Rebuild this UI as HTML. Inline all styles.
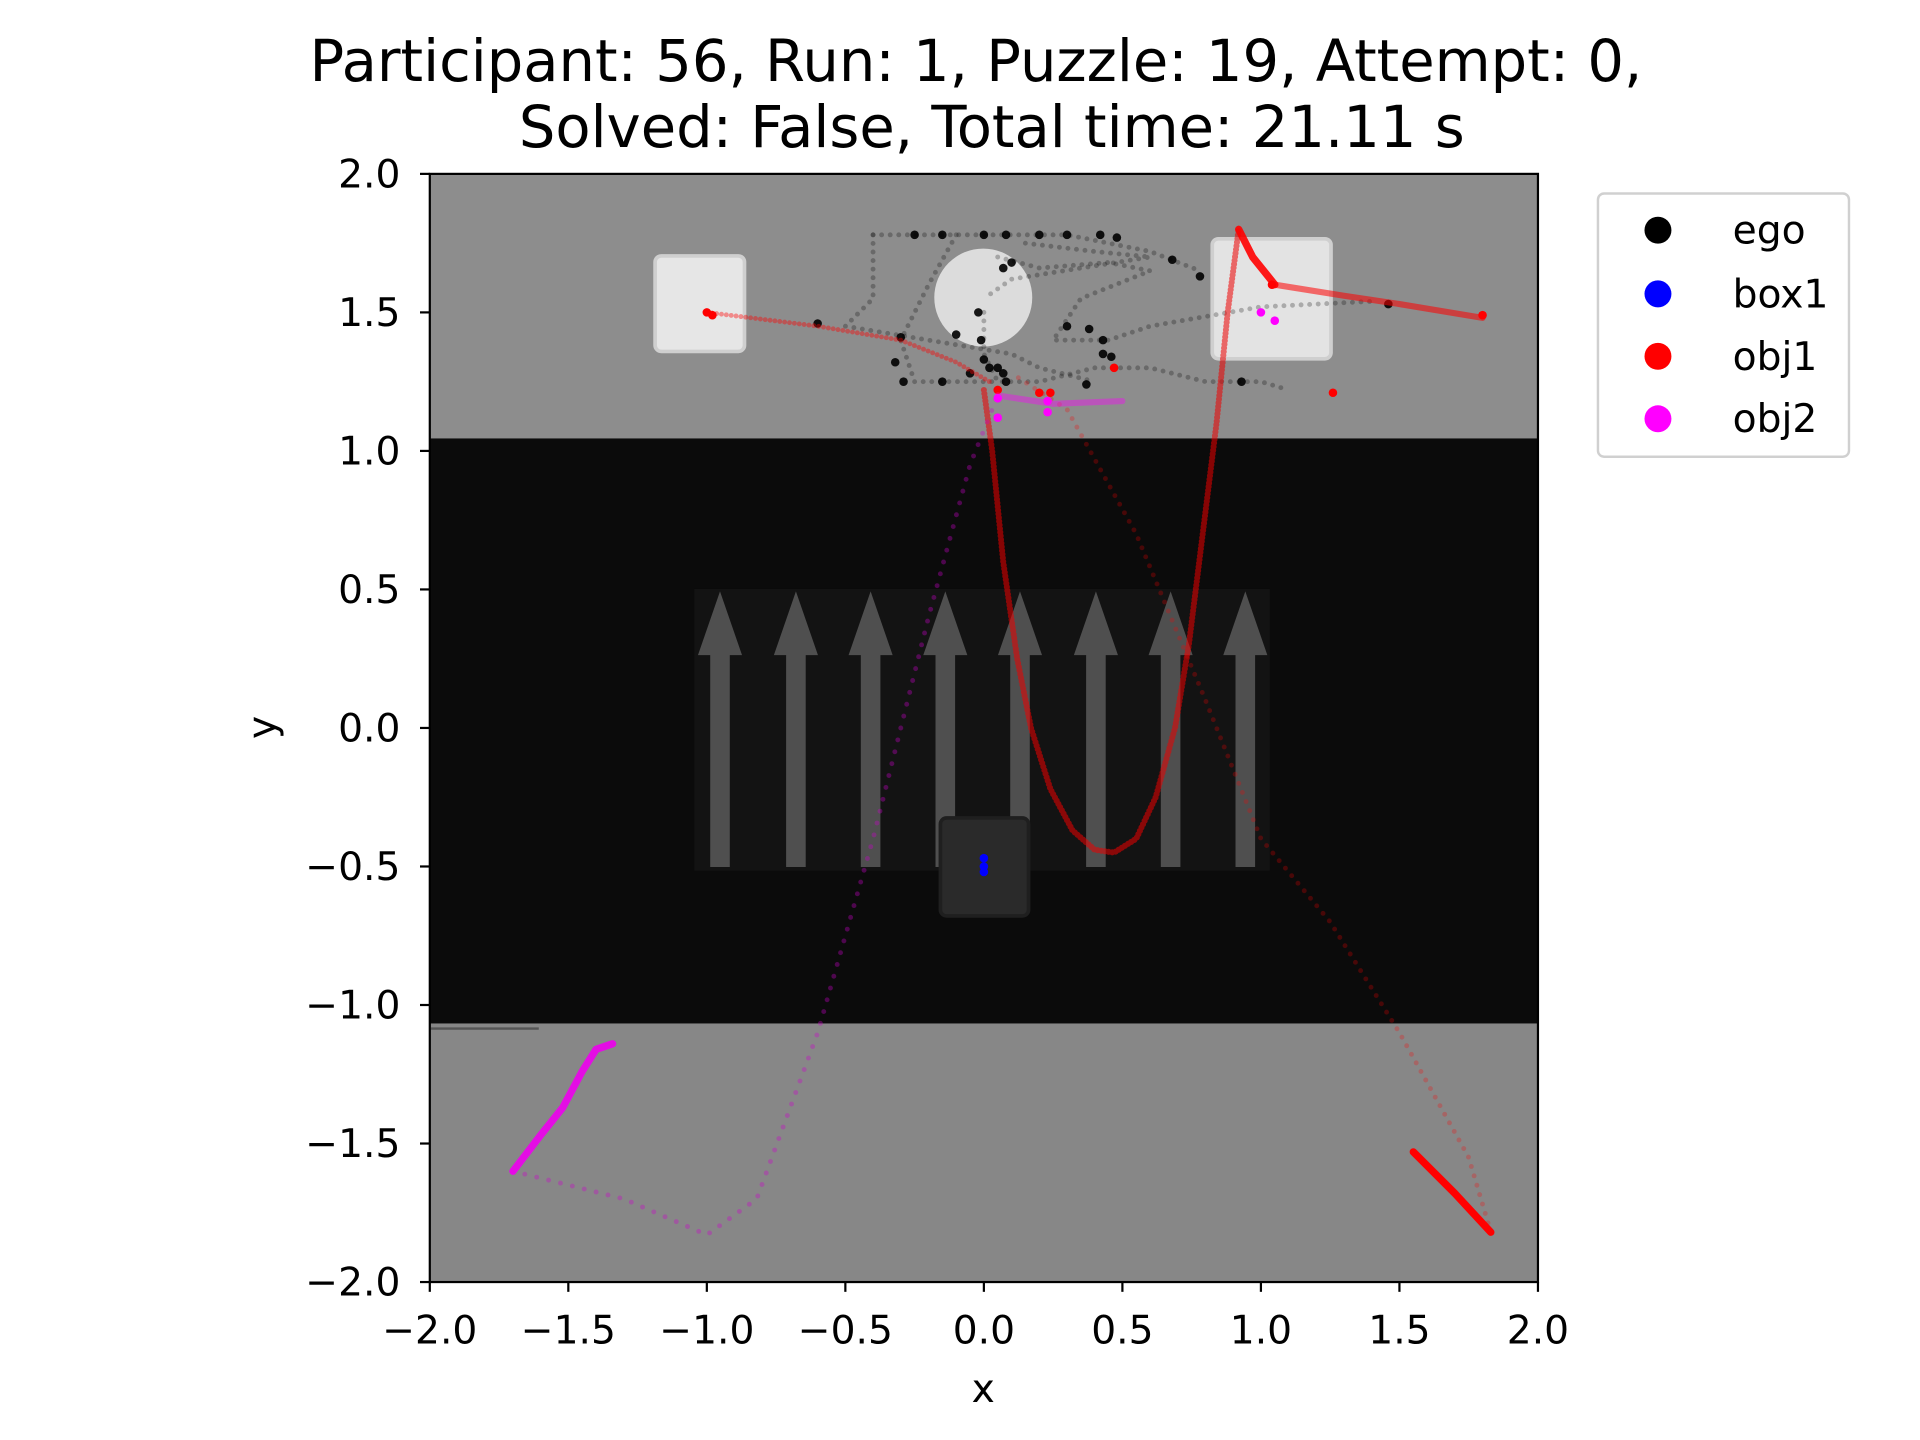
<!DOCTYPE html>
<html><head><meta charset="utf-8"><style>
html,body{margin:0;padding:0;background:#fff}
svg{display:block;font-family:"DejaVu Sans","Liberation Sans",sans-serif}
</style></head><body>
<svg id="chart" width="1920" height="1440" viewBox="0 0 1568 1176" xmlns="http://www.w3.org/2000/svg">
<text x="797" y="66" font-size="47" text-anchor="middle">Participant: 56, Run: 1, Puzzle: 19, Attempt: 0,</text>
<text x="810" y="120" font-size="47" text-anchor="middle">Solved: False, Total time: 21.11 s</text>
<g id="bg"></g>
<g id="marks"></g>
<rect x="351" y="142" width="905" height="905" fill="none" stroke="#000" stroke-width="1.8"/>
<g id="axes"></g>
<text x="803" y="1145" font-size="32" text-anchor="middle">x</text>
<text x="225" y="594" font-size="32" text-anchor="middle" transform="rotate(-90 225 594)">y</text>
<g>
<rect x="1305" y="158" width="205" height="215" rx="5" fill="#fff" stroke="#d0d0d0" stroke-width="2"/>
<circle cx="1354" cy="188" r="11" fill="#000"/>
<text x="1415" y="199" font-size="32">ego</text>
<circle cx="1354" cy="240" r="11" fill="#00f"/>
<text x="1415" y="251" font-size="32">box1</text>
<circle cx="1354" cy="291" r="11" fill="#f00"/>
<text x="1415" y="302" font-size="32">obj1</text>
<circle cx="1354" cy="342" r="11" fill="#f0f"/>
<text x="1415" y="353" font-size="32">obj2</text>
</g>
</svg>
<script>
const xTicks=[-2.0,-1.5,-1.0,-0.5,0.0,0.5,1.0,1.5,2.0];
const yTicks=[-2.0,-1.5,-1.0,-0.5,0.0,0.5,1.0,1.5,2.0];
const obj1Dense=[[1.83,-1.82],[1.7,-1.68],[1.55,-1.53]];
const obj1Dense2=[[0.92,1.8],[0.97,1.7],[1.05,1.6]];
const obj1Line=[[1.05,1.6],[1.3,1.56],[1.5,1.53],[1.8,1.48]];
const obj1Curve=[[0.0,1.22],[0.03,1.0],[0.07,0.6],[0.12,0.25],[0.17,0.0],[0.24,-0.22],[0.32,-0.37],[0.4,-0.44],[0.47,-0.45],[0.55,-0.4],[0.62,-0.25],[0.69,0.0],[0.74,0.3],[0.79,0.7],[0.84,1.1],[0.88,1.5],[0.92,1.8]];
const obj1Faint=[[1.83,-1.82],[1.75,-1.55],[1.5,-1.1],[1.25,-0.7],[1.0,-0.4],[0.8,0.1],[0.55,0.7],[0.3,1.15],[0.1,1.28]];
const obj1Left=[[-1.0,1.5],[-0.6,1.45],[-0.3,1.4],[-0.1,1.32],[0.02,1.25]];
const obj1Dots=[[-1.0,1.5],[-0.98,1.49],[0.2,1.21],[0.24,1.21],[0.47,1.3],[1.26,1.21],[1.04,1.6],[1.8,1.49],[0.05,1.22]];
const obj2Dense=[[-1.34,-1.14],[-1.4,-1.16],[-1.45,-1.24],[-1.52,-1.37],[-1.6,-1.47],[-1.7,-1.6]];
const obj2Faint=[[-1.7,-1.6],[-1.3,-1.7],[-1.0,-1.83],[-0.82,-1.7],[-0.6,-1.1],[-0.4,-0.4],[-0.2,0.4],[-0.05,0.95],[0.05,1.2]];
const obj2Top=[[0.05,1.2],[0.25,1.17],[0.5,1.18]];
const obj2Dots=[[0.05,1.12],[0.05,1.19],[0.23,1.14],[0.23,1.18],[1.0,1.5],[1.05,1.47]];
const box1Dots=[[0.0,-0.47],[0.0,-0.5],[0.0,-0.52]];
const egoPaths=[
 [[-0.4,1.78],[0.3,1.78],[0.6,1.72],[0.78,1.65]],
 [[-0.4,1.78],[-0.4,1.55],[-0.5,1.45],[-0.2,1.4],[0.1,1.35],[0.2,1.3],[0.4,1.25]],
 [[-0.1,1.78],[-0.2,1.6],[-0.3,1.4],[-0.25,1.25],[0.05,1.25]],
 [[0.05,1.7],[0.2,1.66],[0.45,1.68],[0.6,1.65],[0.35,1.55],[0.25,1.4],[0.45,1.4],[0.6,1.45],[1.0,1.52],[1.4,1.54]],
 [[0.0,1.5],[0.0,1.35],[0.05,1.25],[0.2,1.25],[0.4,1.3],[0.6,1.3],[0.8,1.25],[1.0,1.25],[1.1,1.22]],
 [[0.15,1.75],[0.4,1.72],[0.6,1.7],[0.1,1.62],[0.0,1.55]]
];
const egoDots=[[-0.6,1.46],[-0.3,1.41],[-0.32,1.32],[-0.29,1.25],[-0.15,1.25],[-0.1,1.42],[-0.25,1.78],[-0.15,1.78],[0.0,1.78],[0.08,1.78],[0.2,1.78],[0.3,1.78],[0.42,1.78],[0.48,1.77],[0.68,1.69],[0.78,1.63],[0.1,1.68],[0.07,1.66],[-0.02,1.5],[-0.01,1.4],[0.0,1.33],[0.05,1.3],[0.07,1.28],[0.08,1.25],[0.3,1.45],[0.38,1.44],[0.43,1.4],[0.43,1.35],[0.37,1.24],[0.46,1.34],[0.93,1.25],[1.46,1.53],[-0.05,1.28],[0.02,1.3]];

const svg=document.getElementById('chart');
const NS='http://www.w3.org/2000/svg';
const X0=351,X1=1256,Y0=1047,Y1=142;
function sx(v){return X0+(v+2)/4*(X1-X0);}
function sy(v){return Y0-(v+2)/4*(Y0-Y1);}
function mk(tag,attrs,parent){const e=document.createElementNS(NS,tag);for(const k in attrs)e.setAttribute(k,attrs[k]);parent.appendChild(e);return e;}

const bg=document.getElementById('bg');
let r=mk('rect',{x:351,y:142,width:905,height:216,fill:'#8d8d8d'},bg);


r=mk('rect',{x:351,y:358,width:905,height:478,fill:'#0b0b0b'},bg);


r=mk('rect',{x:351,y:836,width:905,height:211,fill:'#878787'},bg);


r=mk('rect',{x:567,y:481,width:470,height:230,fill:'#131313'},bg);


[588,650,711,772,833,895,956,1017].forEach(cx=>{
 const a=mk('polygon',{points:`${cx-8},708 ${cx+8},708 ${cx+8},535 ${cx+18},535 ${cx},483 ${cx-18},535 ${cx-8},535`,fill:'#4f4f4f'},bg);
 
 
});
r=mk('rect',{x:535,y:209,width:73,height:78,rx:5,fill:'#e6e6e6',stroke:'#cfcfcf','stroke-width':3},bg);


r=mk('circle',{cx:803,cy:243,r:40,fill:'#dcdcdc'},bg);


r=mk('rect',{x:990,y:195,width:97,height:98,rx:5,fill:'#e3e3e3',stroke:'#cfcfcf','stroke-width':3},bg);


r=mk('rect',{x:768,y:668,width:72,height:80,rx:5,fill:'#2a2a2a',stroke:'#1f1f1f','stroke-width':3},bg);


r=mk('line',{x1:352,y1:840,x2:440,y2:840,stroke:'#555','stroke-width':2},bg);



const marks=document.getElementById('marks');
function pts(arr){return arr.map(p=>sx(p[0]).toFixed(1)+','+sy(p[1]).toFixed(1)).join(' ');}
function line(arr,color,w,op,dash,name){
 const e=mk('polyline',{points:pts(arr),fill:'none',stroke:color,'stroke-width':w,'stroke-opacity':op,'stroke-linecap':'round','stroke-linejoin':'round'},marks);
 if(dash)e.setAttribute('stroke-dasharray',dash);
 
 
}
function dots(arr,color,rad,op,name){
 arr.forEach(p=>{const c=mk('circle',{cx:sx(p[0]),cy:sy(p[1]),r:rad,fill:color,'fill-opacity':op},marks);
 
 });
}
egoPaths.forEach(p=>line(p,'#000',4,0.25,'0 7','ego-trajectory'));
dots(egoDots,'#000',3.5,0.9,'ego-point');
line(obj1Faint,'#f00',4,0.25,'0 8','obj1-faint-trajectory');
line(obj1Curve,'#e00',5,0.55,'0 3','obj1-curve-trajectory');
line(obj1Left,'#f00',4,0.4,'0 4','obj1-left-trajectory');
line(obj1Line,'#f00',5,0.55,null,'obj1-top-trajectory');
line(obj1Dense,'#f00',6,1,null,'obj1-dense-trajectory');
line(obj1Dense2,'#f00',6,0.9,null,'obj1-dense-trajectory-2');
dots(obj1Dots,'#f00',3.5,1,'obj1-point');
line(obj2Faint,'#c0c',4,0.35,'0 10','obj2-faint-trajectory');
line(obj2Top,'#f0f',5,0.4,null,'obj2-top-trajectory');
line(obj2Dense,'#e0e',6,0.9,null,'obj2-dense-trajectory');
dots(obj2Dots,'#f0f',3.5,1,'obj2-point');
dots(box1Dots,'#00f',3.5,1,'box1-point');

const ax=document.getElementById('axes');
function lab(v){return (v<0?'\u2212':'')+Math.abs(v).toFixed(1);}
xTicks.forEach(v=>{
 const l=mk('line',{x1:sx(v),x2:sx(v),y1:1047,y2:1055,stroke:'#000','stroke-width':1.8},ax);
 
 
 const t=mk('text',{x:sx(v),y:1097,'font-size':32,'text-anchor':'middle'},ax);
 t.textContent=lab(v);
 
 
});
yTicks.forEach(v=>{
 const l=mk('line',{x1:343,x2:351,y1:sy(v),y2:sy(v),stroke:'#000','stroke-width':1.8},ax);
 
 
 const t=mk('text',{x:327,y:sy(v)+11,'font-size':32,'text-anchor':'end'},ax);
 t.textContent=lab(v);
 
 
});
</script>
</body></html>
